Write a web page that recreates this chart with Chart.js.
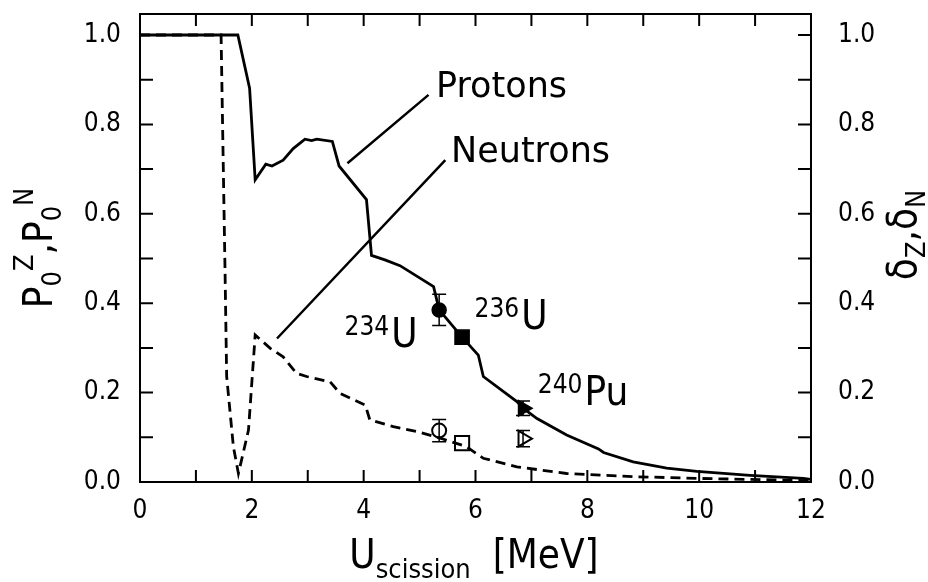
<!DOCTYPE html>
<html>
<head>
<meta charset="utf-8">
<script src="https://cdn.jsdelivr.net/npm/chart.js@4"></script>
<style>
  body { margin: 0; background: #fff; }
  #wrap { width: 928px; height: 582px; }
</style>
</head>
<body>
<div id="wrap"><canvas id="myChart" width="928" height="582"></canvas></div>
<script>
// energies in MeV, probabilities
const protonE = [0, 1.75, 1.96, 2.06, 2.25, 2.36, 2.56, 2.74, 2.95, 3.07, 3.16, 3.44, 3.56, 4.05, 4.14, 4.38, 4.65, 5.25, 5.35, 5.76, 6.05, 6.14, 6.74, 6.85, 7.10, 7.63, 8.20, 8.29, 8.82, 9.42, 9.96, 10.91, 11.86, 12];
const protonP = [1.0, 1.0, 0.881, 0.676, 0.711, 0.707, 0.720, 0.746, 0.767, 0.764, 0.767, 0.762, 0.707, 0.632, 0.507, 0.497, 0.484, 0.437, 0.385, 0.324, 0.284, 0.236, 0.180, 0.165, 0.142, 0.105, 0.074, 0.066, 0.045, 0.031, 0.024, 0.015, 0.008, 0.006];

const neutronE = [0, 1.45, 1.52, 1.55, 1.67, 1.76, 1.94, 2.06, 2.33, 2.56, 2.80, 2.98, 3.40, 3.58, 4.03, 4.11, 4.53, 4.95, 5.37, 5.84, 6.14, 6.74, 7.63, 8.82, 10.0, 12];
const neutronP = [1.0, 1.0, 0.479, 0.236, 0.079, 0.019, 0.116, 0.329, 0.299, 0.280, 0.243, 0.236, 0.224, 0.198, 0.172, 0.139, 0.124, 0.113, 0.098, 0.079, 0.053, 0.034, 0.019, 0.012, 0.008, 0.003];

// measured points: 234U, 236U, 240Pu
const nuclides = ['234U', '236U', '240Pu'];
const expE = [5.35, 5.76, 6.85];
const deltaZ = [0.385, 0.324, 0.165];
const deltaZErr = [0.035, 0, 0.016];
const deltaN = [0.115, 0.087, 0.097];
const deltaNErr = [0.025, 0, 0.018];
const markerStyles = ['circle', 'rect', 'triangle'];
const markerRotation = [0, 0, 90];

const xTickLabels = [0, 2, 4, 6, 8, 10, 12];
const yTickLabels = ['0.0', '0.2', '0.4', '0.6', '0.8', '1.0'];

const tickFont = { family: 'DejaVu Sans Condensed', size: 26 };
const wordFont = '35px "DejaVu Sans"';

const toXY = (xs, ys) => xs.map((x, i) => ({ x: x, y: ys[i] }));

// draws text made of several runs (sub/superscripts), optionally rotated
function drawRuns(ctx, runs, x, y, angle) {
    ctx.save();
    ctx.translate(x, y);
    ctx.rotate(angle);
    let w = 0;
    runs.forEach(r => { ctx.font = r.font; r.w = ctx.measureText(r.t).width; w += r.w + (r.gap || 0); });
    let cx = -w / 2;
    ctx.textAlign = 'left';
    ctx.textBaseline = 'alphabetic';
    ctx.fillStyle = '#000';
    runs.forEach(r => { ctx.font = r.font; ctx.fillText(r.t, cx, r.dy || 0); cx += r.w + (r.gap || 0); });
    ctx.restore();
}

const framePlugin = {
    id: 'frame',
    afterDraw(chart) {
        const { ctx, chartArea: a, scales } = chart;
        const xs = scales.x, ys = scales.y;
        ctx.save();
        ctx.strokeStyle = '#000';
        ctx.lineWidth = 2;
        ctx.strokeRect(a.left, a.top, a.right - a.left, a.bottom - a.top);
        ctx.beginPath();
        for (let v = 0; v <= 12; v++) {
            const px = xs.getPixelForValue(v);
            ctx.moveTo(px, a.bottom); ctx.lineTo(px, a.bottom - 12);
            ctx.moveTo(px, a.top); ctx.lineTo(px, a.top + 12);
        }
        for (let i = 0; i <= 10; i++) {
            const py = ys.getPixelForValue(i / 10);
            ctx.moveTo(a.left, py); ctx.lineTo(a.left + 13, py);
            ctx.moveTo(a.right, py); ctx.lineTo(a.right - 13, py);
        }
        ctx.stroke();

        // error bars
        const bars = [[deltaZ, deltaZErr], [deltaN, deltaNErr]];
        ctx.lineWidth = 1.5;
        ctx.beginPath();
        bars.forEach(([vals, errs]) => {
            vals.forEach((v, i) => {
                if (!errs[i]) return;
                const px = xs.getPixelForValue(expE[i]);
                const y1 = ys.getPixelForValue(v + errs[i]);
                const y2 = ys.getPixelForValue(v - errs[i]);
                ctx.moveTo(px, y1); ctx.lineTo(px, y2);
                ctx.moveTo(px - 7, y1); ctx.lineTo(px + 7, y1);
                ctx.moveTo(px - 7, y2); ctx.lineTo(px + 7, y2);
            });
        });
        ctx.stroke();

        // leader lines for the labels
        ctx.lineWidth = 2.5;
        ctx.beginPath();
        ctx.moveTo(xs.getPixelForValue(3.71), ys.getPixelForValue(0.713));
        ctx.lineTo(xs.getPixelForValue(5.16), ys.getPixelForValue(0.866));
        ctx.moveTo(xs.getPixelForValue(2.45), ys.getPixelForValue(0.321));
        ctx.lineTo(xs.getPixelForValue(5.46), ys.getPixelForValue(0.72));
        ctx.stroke();

        ctx.fillStyle = '#000';
        ctx.textAlign = 'left';
        ctx.textBaseline = 'alphabetic';
        ctx.font = wordFont;
        ctx.fillText('Protons', 436, 97);
        ctx.fillText('Neutrons', 451, 162);

        const sup = '26px "DejaVu Sans Condensed"';
        const big = '40px "DejaVu Sans Condensed"';
        drawRuns(ctx, [{ t: '234', font: sup, dy: -12, gap: 2 }, { t: 'U', font: big }], 381, 347, 0);
        drawRuns(ctx, [{ t: '236', font: sup, dy: -12, gap: 2 }, { t: 'U', font: big }], 511, 329, 0);
        drawRuns(ctx, [{ t: '240', font: sup, dy: -12, gap: 2 }, { t: 'Pu', font: big }], 583, 405, 0);

        // axis titles
        const t = '40px "DejaVu Sans Condensed"';
        const s = '27px "DejaVu Sans Condensed"';
        drawRuns(ctx, [
            { t: 'U', font: t },
            { t: 'scission', font: s, dy: 10, gap: 22 },
            { t: '[MeV]', font: t }
        ], 474, 568, 0);
        drawRuns(ctx, [
            { t: 'P', font: t },
            { t: '0', font: s, dy: 9 },
            { t: 'Z', font: s, dy: -19 },
            { t: ',', font: t },
            { t: 'P', font: t },
            { t: '0', font: s, dy: 9 },
            { t: 'N', font: s, dy: -19 }
        ], 52, 248, -Math.PI / 2);
        drawRuns(ctx, [
            { t: 'δ', font: t },
            { t: 'Z', font: s, dy: 9 },
            { t: ',', font: t },
            { t: 'δ', font: t },
            { t: 'N', font: s, dy: 9 }
        ], 916, 235, -Math.PI / 2);
        ctx.restore();
    }
};

const yTickCb = v => {
    const s = (Math.round(v * 10) / 10).toFixed(1);
    return yTickLabels.includes(s) && Math.abs(v * 10 - Math.round(v * 10)) < 1e-6 ? s : '';
};

const ctx = document.getElementById('myChart').getContext('2d');
new Chart(ctx, {
    type: 'scatter',
    data: {
        datasets: [
            { label: 'Protons', data: toXY(protonE, protonP), showLine: true, borderColor: '#000', borderWidth: 2.8, pointRadius: 0, tension: 0 },
            { label: 'Neutrons', data: toXY(neutronE, neutronP), showLine: true, borderColor: '#000', borderWidth: 2.8, borderDash: [10, 6], pointRadius: 0, tension: 0 },
            { label: 'deltaZ', data: toXY(expE, deltaZ), pointStyle: markerStyles, rotation: markerRotation, pointRadius: [7, 10, 9], backgroundColor: '#000', borderColor: '#000', borderWidth: 1.5 },
            { label: 'deltaN', data: toXY(expE, deltaN), pointStyle: markerStyles, rotation: markerRotation, pointRadius: [7, 10, 9], backgroundColor: '#fff', borderColor: '#000', borderWidth: 2 }
        ]
    },
    options: {
        responsive: false,
        animation: false,
        layout: { padding: { top: 14, right: 0, left: 0, bottom: 0 } },
        plugins: { legend: { display: false }, tooltip: { enabled: false } },
        scales: {
            x: {
                type: 'linear', min: 0, max: 12,
                grid: { display: false }, border: { display: false },
                ticks: {
                    stepSize: 1, autoSkip: false, maxRotation: 0, color: '#000', font: tickFont, padding: 6,
                    callback: v => xTickLabels.includes(v) ? String(v) : ''
                },
                afterFit: s => { s.height = 100; s.paddingLeft = 0; s.paddingRight = 0; }
            },
            y: {
                position: 'left', min: 0, max: 1.047,
                grid: { display: false }, border: { display: false },
                ticks: { stepSize: 0.1, includeBounds: false, autoSkip: false, color: '#000', font: tickFont, padding: 11, callback: yTickCb },
                afterFit: s => { s.width = 140; s.paddingTop = 0; s.paddingBottom = 0; }
            },
            y2: {
                position: 'right', min: 0, max: 1.047,
                grid: { display: false }, border: { display: false },
                ticks: { stepSize: 0.1, includeBounds: false, autoSkip: false, color: '#000', font: tickFont, padding: 19, callback: yTickCb },
                afterFit: s => { s.width = 117; s.paddingTop = 0; s.paddingBottom = 0; }
            }
        }
    },
    plugins: [framePlugin]
});
</script>
</body>
</html>
